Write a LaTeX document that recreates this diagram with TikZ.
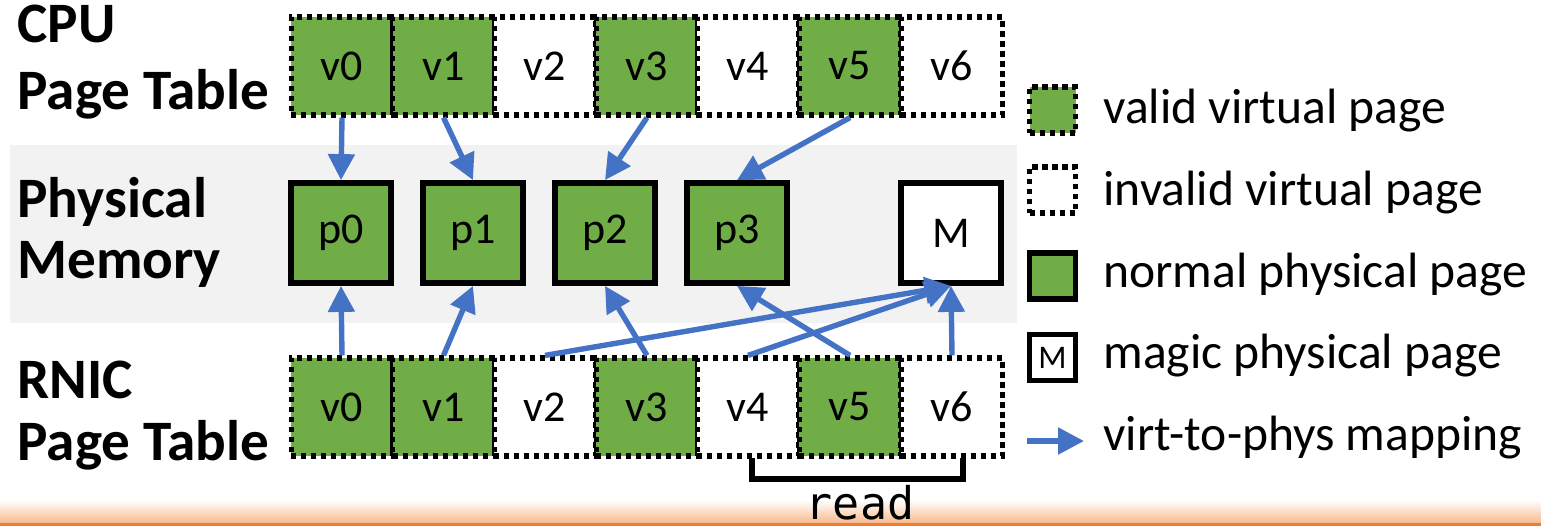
\documentclass[tikz,border=0pt]{standalone}
\usepackage{fontspec}
\setmainfont{Carlito}
\setmonofont{DejaVu Sans Mono}
\usetikzlibrary{arrows.meta}
\definecolor{pgreen}{HTML}{70AD47}
\definecolor{pblue}{HTML}{4472C4}
\definecolor{pgray}{HTML}{F2F2F2}
\definecolor{porange}{HTML}{ED7D31}
\definecolor{plorange}{HTML}{F7BA8E}
\begin{document}
\begin{tikzpicture}[x=0.5pt,y=-0.5pt,
  vcell/.style={draw=black, line width=2.6pt, dash pattern=on 2.6pt off 2.4pt,
    minimum width=50.8pt, minimum height=49pt, inner sep=0pt,
    font=\fontsize{22}{24}\selectfont},
  validpg/.style={vcell, fill=pgreen},
  invalidpg/.style={vcell, fill=white},
  pbox/.style={draw=black, line width=2.9pt, minimum size=50pt, inner sep=0pt,
    fill=pgreen, font=\fontsize{22}{24}\selectfont},
  magicpg/.style={pbox, fill=white},
  map/.style={draw=pblue, line width=2.7pt, -{Triangle[length=13pt,width=13pt]}},
  lbl/.style={anchor=base west, font=\fontsize{28.6}{30}\selectfont\bfseries, inner sep=0pt},
  legtxt/.style={anchor=base west, font=\fontsize{24.8}{26}\selectfont, inner sep=0pt},
  legsym/.style={minimum size=23pt},
]
\useasboundingbox (0,0) rectangle (1541,526);
% gray band
\fill[pgray] (10,145) rectangle (1017,323);

% labels
\node[lbl] (l1a) at (17,42) {CPU};
\node[lbl] (l1b) at (17,109) {Page Table};
\node[lbl] (l2a) at (17,217) {Physical};
\node[lbl] (l2b) at (17,278) {Memory};
\node[lbl] (l3a) at (17,398) {RNIC};
\node[lbl] (l3b) at (17,460) {Page Table};

% CPU page table
\node[validpg]   (c0) at (342,66) {v0};
\node[validpg]   (c1) at (443.5,66) {v1};
\node[invalidpg] (c2) at (545,66) {v2};
\node[validpg]   (c3) at (647,66) {v3};
\node[invalidpg] (c4) at (748,66) {v4};
\node[validpg]   (c5) at (850,66) {v5};
\node[invalidpg] (c6) at (952,66) {v6};

% RNIC page table
\node[validpg]   (r0) at (342,407) {v0};
\node[validpg]   (r1) at (443.5,407) {v1};
\node[invalidpg] (r2) at (545,407) {v2};
\node[validpg]   (r3) at (647,407) {v3};
\node[invalidpg] (r4) at (748,407) {v4};
\node[validpg]   (r5) at (850,407) {v5};
\node[invalidpg] (r6) at (952,407) {v6};

% physical memory
\node[pbox]    (p0) at (341,233) {p0};
\node[pbox]    (p1) at (473,233) {p1};
\node[pbox]    (p2) at (605,233) {p2};
\node[pbox]    (p3) at (737,233) {p3};
\node[magicpg] (pm) at (951,233) {M};

% CPU mappings
\draw[map] (c0.south) -- (p0.north);
\draw[map] (c1.south) -- (p1.north);
\draw[map] (c3.south) -- (p2.north);
\draw[map] (c5.south) -- (p3.north);

% RNIC mappings
\draw[map] (r0.north) -- (p0.south);
\draw[map] (r1.north) -- (p1.south);
\draw[map] (r2.north) -- (pm.south);
\draw[map] (r3.north) -- (p2.south);
\draw[map] (r4.north) -- (pm.south);
\draw[map] (r5.north) -- (p3.south);
\draw[map] (r6.north) -- (pm.south);

% read bracket
\coordinate (b1) at (752,458);
\coordinate (b2) at (752,479);
\coordinate (b3) at (963,479);
\coordinate (b4) at (963,458);
\draw[line width=2.6pt] (b1) -- (b2) -- (b3) -- (b4);

% bottom orange band
\shade[top color=white, bottom color=plorange] (0,500) rectangle (1541,523);
\fill[porange] (0,523) rectangle (1541,526);
\node[anchor=base, inner sep=0pt, font=\ttfamily\fontsize{22.5}{24}\selectfont] (read) at (860,519) {read};

% legend
\node[validpg, legsym] (g1) at (1052.5,110) {};
\node[invalidpg, legsym] (g2) at (1052.5,190) {};
\node[pbox, legsym, fill=pgreen] (g3) at (1052.5,276) {};
\node[magicpg, legsym, font=\fontsize{16.5}{18}\selectfont] (g4) at (1052.5,357.5) {M};
\coordinate (ga) at (1027,441);
\coordinate (gb) at (1084,441);
\draw[map] (ga) -- (gb);

\node[legtxt] (t1) at (1103,123) {valid virtual page};
\node[legtxt] (t2) at (1103,205) {invalid virtual page};
\node[legtxt] (t3) at (1103,287) {normal physical page};
\node[legtxt] (t4) at (1103,368) {magic physical page};
\node[legtxt] (t5) at (1103,450) {virt-to-phys mapping};
\end{tikzpicture}
\end{document}
